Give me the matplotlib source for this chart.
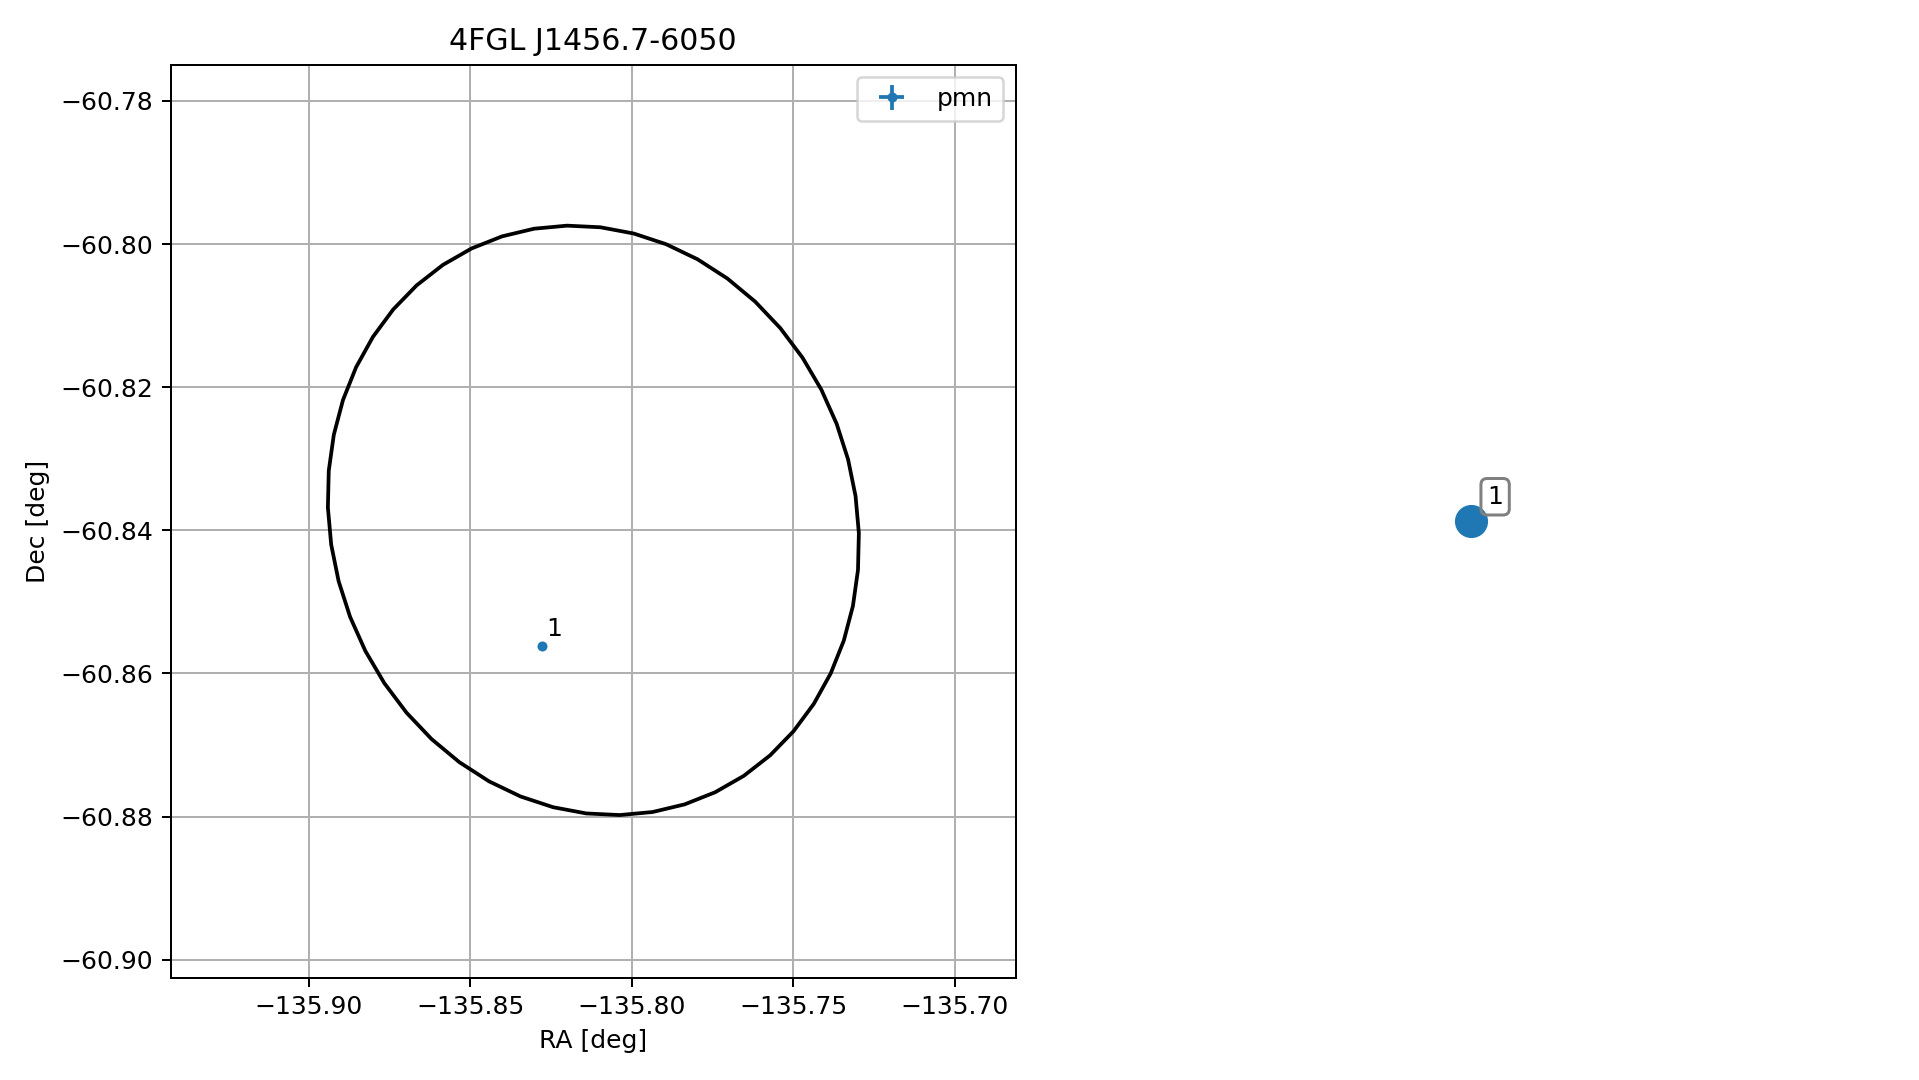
import matplotlib
matplotlib.use("Agg")
import matplotlib.pyplot as plt
from matplotlib.patches import RegularPolygon
from matplotlib.transforms import Affine2D

# ---- data ----
title = "4FGL J1456.7-6050"
ell_center_ra = -135.8119
ell_center_dec = -60.83861
ell_semi_major = 0.08239     # deg (RA units)
ell_semi_minor = 0.04102     # deg
ell_angle = -3.04            # deg
ell_n_vertices = 50

src_ra = [-135.8277]
src_dec = [-60.85622]
src_ra_err = [0.0003]
src_dec_err = [0.00015]
src_labels = ["1"]
src_cat = "pmn"

xticks = [-135.90, -135.85, -135.80, -135.75, -135.70]
yticks = [-60.78, -60.80, -60.82, -60.84, -60.86, -60.88, -60.90]

# ---- figure ----
W, H = 1919, 1080
fig = plt.figure(figsize=(10.662, 6.0), dpi=180)
ax = fig.add_axes([170.5 / W, 1 - 977.5 / H, (1015.5 - 170.5) / W, (977.5 - 64.5) / H])

ell = RegularPolygon((0, 0), numVertices=ell_n_vertices, radius=1.0,
                     fill=False, ec="k", lw=1.5, zorder=3)
ell.set_transform(Affine2D().scale(ell_semi_major, ell_semi_minor)
                  .rotate_deg(ell_angle)
                  .translate(ell_center_ra, ell_center_dec) + ax.transData)
ax.add_patch(ell)

ax.errorbar(src_ra, src_dec, xerr=src_ra_err, yerr=src_dec_err, fmt="o",
            ms=3, color="C0", label=src_cat, zorder=4)
for r, d, l in zip(src_ra, src_dec, src_labels):
    ax.annotate(l, (r, d), xytext=(1.5, 2), textcoords="offset points",
                ha="left", va="bottom", fontsize=10)

ax.set_xlim(-135.9429, -135.6811)
ax.set_ylim(-60.9025, -60.7749)
ax.set_xticks(xticks)
ax.set_yticks(yticks)
ax.set_xticklabels([f"{t:.2f}".replace("-", "\u2212") for t in xticks])
ax.set_yticklabels([f"{t:.2f}".replace("-", "\u2212") for t in yticks])
ax.grid(True)
ax.set_axisbelow(True)
ax.set_xlabel("RA [deg]")
ax.set_ylabel("Dec [deg]")
ax.set_title(title)
ax.legend(loc="upper right")

# right panel: source finder
cx, cy = 1471 / W, 1 - 521 / H
ax2 = fig.add_axes([cx - 0.2, cy - 0.4, 0.4, 0.8])
ax2.axis("off")
ax2.set_xlim(src_ra[0] - 1, src_ra[0] + 1)
ax2.set_ylim(src_dec[0] - 1, src_dec[0] + 1)
ax2.scatter(src_ra, src_dec, s=150, color="C0")
for r, d, l in zip(src_ra, src_dec, src_labels):
    ax2.annotate(l, (r, d), xytext=(9.6, 9.7), textcoords="offset points",
                 ha="center", va="center", fontsize=10,
                 bbox=dict(boxstyle="round,pad=0.25", fc="none", ec="gray", lw=1.2))

fig.savefig("out.png", dpi=180)
